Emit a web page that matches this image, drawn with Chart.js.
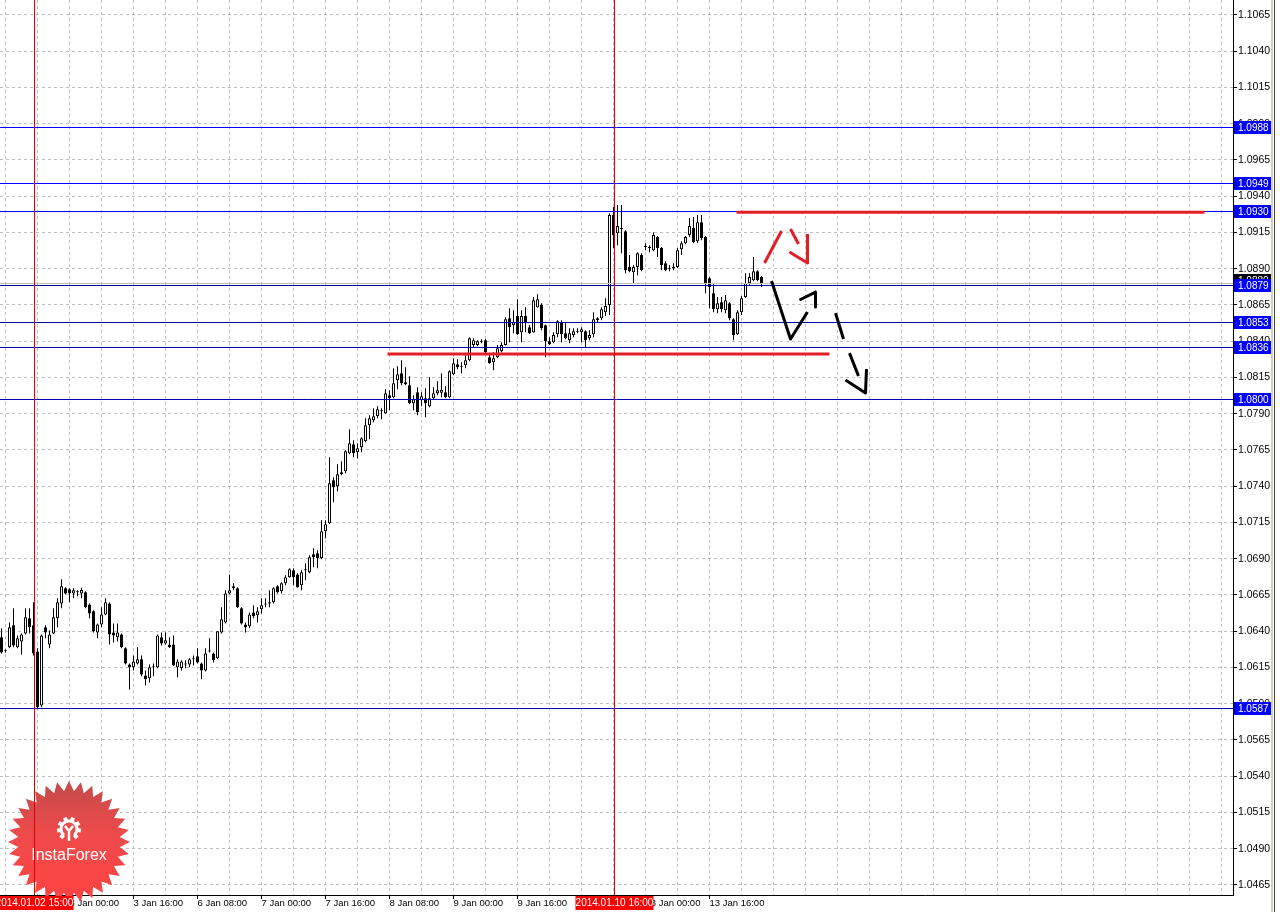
<!DOCTYPE html>
<html>
<head>
<meta charset="utf-8">
<script src="https://cdn.jsdelivr.net/npm/chart.js@4.4.1/dist/chart.umd.min.js"></script>
<style>
html, body { margin: 0; padding: 0; background: #fff; overflow: hidden; }
canvas { display: block; }
</style>
</head>
<body>
<canvas id="cvg" width="1283" height="912"></canvas>
<script>
// H1 candles, bar 0 = 2 Jan 07:00
var opens = [
1.06358,1.06268,1.06289,1.06441,1.06289,1.06330,1.06385,1.06489,1.06441,1.06261,
1.05888,1.06427,1.06309,1.06385,1.06489,1.06592,1.06696,1.06689,1.06661,1.06668,
1.06661,1.06668,1.06585,1.06537,1.06392,1.06447,1.06516,1.06592,1.06392,1.06358,
1.06378,1.06282,1.06171,1.06151,1.06178,1.06206,1.06095,1.06075,1.06151,1.06151,
1.06358,1.06316,1.06309,1.06309,1.06151,1.06147,1.06171,1.06171,1.06206,1.06227,
1.06178,1.06130,1.06261,1.06247,1.06213,1.06392,1.06461,1.06661,1.06696,1.06696,
1.06558,1.06447,1.06434,1.06530,1.06510,1.06551,1.06585,1.06592,1.06599,1.06710,
1.06675,1.06730,1.06772,1.06820,1.06792,1.06717,1.06820,1.06806,1.06930,1.06937,
1.06905,1.07089,1.07144,1.07441,1.07400,1.07496,1.07503,1.07627,1.07689,1.07634,
1.07669,1.07710,1.07821,1.07855,1.07883,1.07917,1.07903,1.08028,1.08014,1.08131,
1.08179,1.08117,1.08096,1.07972,1.08048,1.07993,1.08007,1.07952,1.08007,1.08041,
1.08045,1.08048,1.08014,1.08172,1.08241,1.08221,1.08235,1.08269,1.08373,1.08373,
1.08400,1.08407,1.08290,1.08255,1.08290,1.08331,1.08373,1.08559,1.08510,1.08573,
1.08462,1.08573,1.08497,1.08462,1.08635,1.08649,1.08510,1.08400,1.08393,1.08448,
1.08531,1.08455,1.08407,1.08442,1.08462,1.08462,1.08469,1.08421,1.08448,1.08545,
1.08559,1.08600,1.08649,1.09270,1.09145,1.09180,1.09159,1.08911,1.08876,1.08911,
1.08994,1.09049,1.09042,1.09028,1.09118,1.09042,1.08938,1.08904,1.08904,1.08911,
1.09035,1.09076,1.09132,1.09180,1.09090,1.09221,1.09118,1.08835,1.08731,1.08621,
1.08669,1.08614,1.08662,1.08552,1.08448,1.08600,1.08704,1.08800,1.08821,1.08883,
1.08842
];
var highs = [
1.06420,1.06275,1.06461,1.06558,1.06371,1.06385,1.06558,1.06558,1.06599,1.06282,
1.06378,1.06441,1.06406,1.06558,1.06627,1.06758,1.06703,1.06696,1.06696,1.06682,
1.06700,1.06675,1.06592,1.06544,1.06454,1.06565,1.06627,1.06599,1.06454,1.06454,
1.06385,1.06289,1.06178,1.06233,1.06289,1.06233,1.06130,1.06171,1.06178,1.06378,
1.06392,1.06392,1.06358,1.06371,1.06206,1.06199,1.06199,1.06213,1.06233,1.06282,
1.06185,1.06282,1.06351,1.06254,1.06399,1.06565,1.06682,1.06792,1.06730,1.06703,
1.06565,1.06461,1.06530,1.06579,1.06565,1.06627,1.06627,1.06682,1.06703,1.06717,
1.06737,1.06786,1.06834,1.06834,1.06799,1.06820,1.06868,1.06924,1.06972,1.06958,
1.07165,1.07165,1.07600,1.07462,1.07551,1.07572,1.07648,1.07793,1.07717,1.07696,
1.07738,1.07869,1.07890,1.07938,1.07952,1.07938,1.08069,1.08062,1.08214,1.08228,
1.08269,1.08221,1.08159,1.08028,1.08083,1.08048,1.08076,1.08152,1.08083,1.08124,
1.08179,1.08090,1.08200,1.08283,1.08276,1.08255,1.08304,1.08428,1.08421,1.08407,
1.08414,1.08414,1.08317,1.08324,1.08373,1.08393,1.08566,1.08628,1.08614,1.08690,
1.08614,1.08635,1.08511,1.08704,1.08724,1.08662,1.08515,1.08428,1.08462,1.08545,
1.08545,1.08524,1.08490,1.08490,1.08490,1.08497,1.08476,1.08476,1.08600,1.08566,
1.08635,1.08697,1.09283,1.09325,1.09339,1.09339,1.09166,1.08994,1.08925,1.09014,
1.09007,1.09076,1.09062,1.09152,1.09125,1.09049,1.08952,1.08925,1.08938,1.09042,
1.09090,1.09125,1.09249,1.09256,1.09270,1.09270,1.09125,1.08842,1.08793,1.08704,
1.08704,1.08718,1.08669,1.08559,1.08614,1.08711,1.08869,1.08869,1.08980,1.08890,
1.08849
];
var lows = [
1.06247,1.06254,1.06282,1.06289,1.06282,1.06240,1.06378,1.06385,1.06233,1.05868,
1.05875,1.06351,1.06282,1.06380,1.06427,1.06558,1.06654,1.06599,1.06627,1.06641,
1.06627,1.06558,1.06489,1.06392,1.06351,1.06427,1.06510,1.06309,1.06323,1.06330,
1.06282,1.06171,1.05999,1.06130,1.06171,1.06089,1.06026,1.06047,1.06089,1.06144,
1.06302,1.06309,1.06285,1.06160,1.06082,1.06130,1.06144,1.06151,1.06164,1.06178,
1.06068,1.06123,1.06254,1.06185,1.06206,1.06385,1.06454,1.06655,1.06682,1.06560,
1.06447,1.06392,1.06420,1.06489,1.06461,1.06523,1.06565,1.06565,1.06592,1.06661,
1.06661,1.06717,1.06768,1.06717,1.06700,1.06682,1.06751,1.06799,1.06841,1.06834,
1.06896,1.07041,1.07140,1.07289,1.07365,1.07476,1.07489,1.07620,1.07600,1.07593,
1.07634,1.07703,1.07724,1.07841,1.07869,1.07862,1.07900,1.07924,1.08007,1.08069,
1.08096,1.08096,1.07965,1.07924,1.07890,1.07952,1.07876,1.07945,1.08000,1.08028,
1.08014,1.08007,1.08007,1.08165,1.08207,1.08179,1.08214,1.08262,1.08359,1.08366,
1.08386,1.08317,1.08245,1.08200,1.08283,1.08324,1.08370,1.08393,1.08455,1.08442,
1.08393,1.08462,1.08450,1.08458,1.08630,1.08476,1.08290,1.08373,1.08386,1.08428,
1.08393,1.08414,1.08386,1.08428,1.08455,1.08393,1.08359,1.08407,1.08428,1.08531,
1.08545,1.08573,1.08580,1.09042,1.09062,1.09007,1.08869,1.08876,1.08800,1.08855,
1.08883,1.09028,1.09014,1.09021,1.08980,1.08890,1.08883,1.08883,1.08890,1.08904,
1.08994,1.09069,1.09118,1.09076,1.09076,1.09097,1.08731,1.08628,1.08600,1.08593,
1.08600,1.08593,1.08545,1.08407,1.08442,1.08580,1.08700,1.08780,1.08814,1.08814,
1.08773
];
var closes = [
1.06254,1.06265,1.06427,1.06302,1.06351,1.06378,1.06496,1.06427,1.06247,1.05875,
1.06371,1.06392,1.06378,1.06496,1.06599,1.06710,1.06661,1.06661,1.06682,1.06670,
1.06685,1.06565,1.06523,1.06399,1.06447,1.06516,1.06599,1.06378,1.06371,1.06392,
1.06289,1.06178,1.06151,1.06192,1.06206,1.06102,1.06068,1.06151,1.06158,1.06371,
1.06316,1.06337,1.06289,1.06164,1.06192,1.06192,1.06174,1.06206,1.06213,1.06185,
1.06130,1.06247,1.06265,1.06199,1.06399,1.06482,1.06661,1.06682,1.06710,1.06565,
1.06454,1.06427,1.06516,1.06503,1.06537,1.06579,1.06592,1.06599,1.06696,1.06668,
1.06730,1.06772,1.06827,1.06772,1.06703,1.06806,1.06823,1.06910,1.06910,1.06905,
1.07089,1.07137,1.07420,1.07393,1.07482,1.07482,1.07641,1.07696,1.07627,1.07662,
1.07731,1.07821,1.07869,1.07883,1.07931,1.07920,1.08041,1.08007,1.08110,1.08172,
1.08110,1.08103,1.07972,1.08000,1.07910,1.08021,1.07972,1.08007,1.08041,1.08062,
1.08065,1.08014,1.08193,1.08248,1.08221,1.08224,1.08269,1.08421,1.08407,1.08400,
1.08397,1.08324,1.08248,1.08283,1.08352,1.08373,1.08552,1.08497,1.08531,1.08448,
1.08573,1.08524,1.08455,1.08683,1.08690,1.08490,1.08400,1.08379,1.08442,1.08538,
1.08448,1.08421,1.08455,1.08469,1.08465,1.08483,1.08407,1.08442,1.08552,1.08559,
1.08621,1.08642,1.09270,1.09132,1.09194,1.09173,1.08890,1.08883,1.08911,1.09007,
1.08890,1.09052,1.09045,1.09132,1.09042,1.08925,1.08890,1.08900,1.08911,1.09028,
1.09076,1.09118,1.09194,1.09083,1.09221,1.09111,1.08800,1.08773,1.08621,1.08662,
1.08621,1.08683,1.08559,1.08442,1.08600,1.08697,1.08800,1.08842,1.08883,1.08821,
1.08800
];

// bottom axis labels, one every 16 bars starting at bar 1
var timeLabels = ['2 Jan 08:00','3 Jan 00:00','3 Jan 16:00','6 Jan 08:00','7 Jan 00:00','7 Jan 16:00',
                  '8 Jan 08:00','9 Jan 00:00','9 Jan 16:00','10 Jan 08:00','13 Jan 00:00','13 Jan 16:00'];
var priceTicks = [1.0465,1.0490,1.0515,1.0540,1.0565,1.0590,1.0615,1.0640,1.0665,1.0690,1.0715,1.0740,1.0765,
                  1.0790,1.0815,1.0840,1.0865,1.0890,1.0915,1.0940,1.0965,1.0990,1.1015,1.1040,1.1065];
var levels = [1.0988, 1.0949, 1.0930, 1.0879, 1.0853, 1.0836, 1.0800, 1.0587];
var cursorBars = [8, 153];
var cursorLabels = ['2014.01.02 15:00', '2014.01.10 16:00'];

// hand drawn marks, [bar, price]
var redLines = [
	[[183.75, 1.09290], [300.75, 1.09290]],
	[[96.5, 1.08312], [207, 1.08312]]
];
var redArrows = [
	[[190.75, 1.08939], [195, 1.09160]],
	[[197.25, 1.09174], [199.25, 1.09070]],
	[[197, 1.09015], [201.5, 1.08939], [201.5, 1.09139]]
];
var blackArrows = [
	[[192.5, 1.08815], [197.25, 1.08415], [201.5, 1.08601]],
	[[199.5, 1.08684], [203.5, 1.08739], [203.5, 1.08636]],
	[[208.5, 1.08594], [210.5, 1.08415]],
	[[212, 1.08318], [214.25, 1.08160]],
	[[211, 1.08132], [216, 1.08043], [216.25, 1.08208]]
];

var FONT = '"Liberation Sans", Arial, sans-serif';
var xMin = -0.375, xMax = 307.875;

var wickData = [], bodyData = [], bodyFill = [];
for (var i = 0; i < opens.length; i++) {
	wickData.push({x: i, y: [lows[i], highs[i]]});
	bodyData.push({x: i, y: [opens[i], closes[i]]});
	bodyFill.push(closes[i] >= opens[i] ? '#ffffff' : '#000000');
}

function toXY(pts) {
	return pts.map(function(p){ return {x: p[0], y: p[1]}; });
}

var datasets = [
	{type: 'bar', data: wickData, backgroundColor: '#000', borderWidth: 0, barThickness: 1,
	 grouped: false, order: 3, inflateAmount: 0},
	{type: 'bar', data: bodyData, backgroundColor: bodyFill, borderColor: '#000', borderWidth: 1,
	 borderSkipped: false, barThickness: 3, minBarLength: 1, grouped: false, order: 2, inflateAmount: 0}
];
redLines.forEach(function(l){
	datasets.push({type: 'line', data: toXY(l), borderColor: '#e41e26', borderWidth: 3, pointRadius: 0, order: 0});
});
redArrows.forEach(function(l){
	datasets.push({type: 'line', data: toXY(l), borderColor: '#e41e26', borderWidth: 3, pointRadius: 0,
	 borderJoinStyle: 'round', order: 0});
});
blackArrows.forEach(function(l){
	datasets.push({type: 'line', data: toXY(l), borderColor: '#000', borderWidth: 3, pointRadius: 0,
	 borderJoinStyle: 'round', order: 0});
});

// horizontal levels + bid line, drawn right after the candle bodies
var levelLines = {
	id: 'levelLines',
	afterDatasetDraw: function(chart, args) {
		if (args.index !== 1) return;
		var ctx = chart.ctx, a = chart.chartArea, ys = chart.scales.y;
		ctx.save();
		ctx.beginPath(); ctx.rect(a.left, a.top, a.right - a.left, a.bottom - a.top); ctx.clip();
		ctx.lineWidth = 1;
		var bid = Math.round(ys.getPixelForValue(closes[closes.length - 1])) + 0.5;
		ctx.strokeStyle = '#c0c0c0';
		ctx.beginPath(); ctx.moveTo(a.left, bid); ctx.lineTo(a.right, bid); ctx.stroke();
		levels.forEach(function(v){
			var y = Math.round(ys.getPixelForValue(v)) + 0.5;
			ctx.strokeStyle = v >= 1.093 ? '#0000ff' : '#0000b4';
			ctx.beginPath(); ctx.moveTo(a.left, y); ctx.lineTo(a.right, y); ctx.stroke();
		});
		ctx.restore();
	}
};

function drawLogo(ctx, cx, cy) {
	var n = 32, R = 61, r = 51;
	ctx.save();
	ctx.beginPath();
	for (var k = 0; k < n * 2; k++) {
		var ang = -Math.PI / 2 + k * Math.PI / n, rr = k % 2 ? r : R;
		var px = cx + rr * Math.cos(ang), py = cy + rr * Math.sin(ang);
		if (k) ctx.lineTo(px, py); else ctx.moveTo(px, py);
	}
	ctx.closePath();
	var g = ctx.createLinearGradient(0, cy - R, 0, cy + R);
	g.addColorStop(0, '#c44b4b');
	g.addColorStop(0.45, '#f04a4a');
	g.addColorStop(1, '#ff4242');
	ctx.fillStyle = g;
	ctx.fill();

	// gear icon
	var gx = cx, gy = cy - 13;
	ctx.strokeStyle = '#fff'; ctx.fillStyle = '#fff';
	ctx.lineWidth = 3;
	ctx.beginPath(); ctx.arc(gx, gy, 8, 0.72 * Math.PI, 0.28 * Math.PI, false); ctx.stroke();
	for (var t = 0; t < 8; t++) {
		var ta = -Math.PI / 2 + (t - 3.5) * (Math.PI / 4.6);
		ctx.save(); ctx.translate(gx + 10 * Math.cos(ta), gy + 10 * Math.sin(ta)); ctx.rotate(ta);
		ctx.fillRect(-2, -2, 4, 4); ctx.restore();
	}
	ctx.lineWidth = 2.5;
	ctx.beginPath();
	ctx.moveTo(gx - 4, gy - 3); ctx.lineTo(gx, gy + 2); ctx.lineTo(gx + 4, gy - 3);
	ctx.moveTo(gx, gy + 2); ctx.lineTo(gx, gy + 12);
	ctx.stroke();

	ctx.font = '16px ' + FONT;
	ctx.textAlign = 'center'; ctx.textBaseline = 'alphabetic';
	ctx.fillText('InstaForex', cx, cy + 18);
	ctx.restore();
}

function priceTag(ctx, x, y, text, bg) {
	ctx.fillStyle = bg;
	ctx.fillRect(x, y - 6, 37, 13);
	ctx.fillStyle = '#fff';
	ctx.fillText(text, x + 4, y + 1);
}

var overlay = {
	id: 'overlay',
	afterDraw: function(chart) {
		var ctx = chart.ctx, a = chart.chartArea, xs = chart.scales.x, ys = chart.scales.y;
		ctx.save();
		// window border
		ctx.fillStyle = '#d4d0c8'; ctx.fillRect(1271, 0, 2, chart.height);
		ctx.fillStyle = '#404040'; ctx.fillRect(1274, 0, 1, chart.height);

		drawLogo(ctx, 69, 842);

		ctx.font = '10px ' + FONT;
		ctx.textBaseline = 'middle';
		// cursor lines and time boxes
		cursorBars.forEach(function(b, k){
			var x = Math.round(xs.getPixelForValue(b)) + 0.5;
			ctx.strokeStyle = '#e00000'; ctx.lineWidth = 1;
			ctx.beginPath(); ctx.moveTo(x, a.top); ctx.lineTo(x, a.bottom); ctx.stroke();
			ctx.fillStyle = '#ff0000';
			ctx.fillRect(x - 39, a.bottom + 1, 78, 14);
			ctx.fillStyle = '#fff'; ctx.textAlign = 'center';
			ctx.fillText(cursorLabels[k], x, a.bottom + 8.5);
		});

		// right axis price tags
		ctx.textAlign = 'left';
		var bidVal = closes[closes.length - 1];
		priceTag(ctx, a.right + 1, Math.round(ys.getPixelForValue(bidVal)) - 3, bidVal.toFixed(4), '#000');
		levels.forEach(function(v){
			priceTag(ctx, a.right + 1, Math.round(ys.getPixelForValue(v)), v.toFixed(4), '#0000ff');
		});
		ctx.restore();
	}
};

var gridBars = [];
for (var b = 1; b <= xMax; b += 8) gridBars.push(b);

function labelFor(v) {
	var k = (v - 1) / 16;
	return (k === Math.floor(k) && k < timeLabels.length) ? timeLabels[k] : '';
}

var cv = document.getElementById('cvg');
var ctx = cv.getContext('2d');
var myChart = new Chart(ctx, {
	type: 'bar',
	data: {datasets: datasets},
	plugins: [levelLines, overlay],
	options: {
		responsive: false,
		animation: false,
		devicePixelRatio: 1,
		layout: {padding: 0},
		plugins: {legend: {display: false}, tooltip: {enabled: false}},
		scales: {
			x: {
				type: 'linear', min: xMin, max: xMax, offset: false,
				afterBuildTicks: function(s){ s.ticks = gridBars.map(function(v){ return {value: v}; }); },
				afterFit: function(s){ s.height = 17; s.paddingLeft = 0; s.paddingRight = 0; },
				grid: {offset: false, color: '#c0c0c0', lineWidth: 1, tickLength: 4,
					tickColor: function(c){ return labelFor(c.tick.value) ? '#000' : 'rgba(0,0,0,0)'; }},
				border: {color: '#000', width: 1, dash: [3, 3]},
				ticks: {autoSkip: false, maxRotation: 0, align: 'start', padding: 0, color: '#000',
					font: {family: FONT, size: 9.5, lineHeight: 1}, callback: labelFor}
			},
			y: {
				position: 'right', min: 1.04581, max: 1.10753,
				afterBuildTicks: function(s){ s.ticks = priceTicks.map(function(v){ return {value: v}; }); },
				afterFit: function(s){ s.width = 50; s.paddingTop = 0; s.paddingBottom = 0; },
				grid: {color: '#c0c0c0', lineWidth: 1, tickLength: 4, tickColor: '#000'},
				border: {color: '#000', width: 1, dash: [3, 3]},
				ticks: {padding: 1, color: '#000', font: {family: FONT, size: 10.5},
					callback: function(v){ return v.toFixed(4); }}
			}
		}
	}
});
</script>
</body>
</html>
